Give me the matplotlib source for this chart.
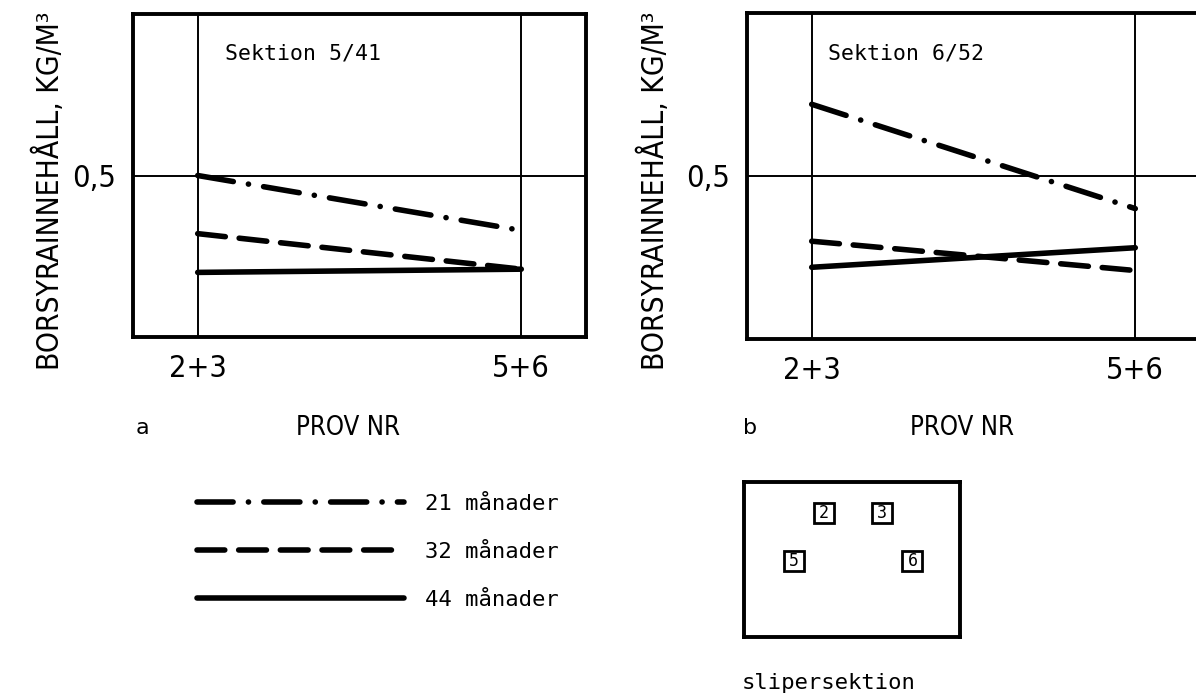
import matplotlib
matplotlib.use("Agg")
import matplotlib.pyplot as plt
import matplotlib.font_manager as fm

# Data
prov_labels = ['2+3', '5+6']
series_labels = ['21 månader', '32 månader', '44 månader']

# Sektion 5/41
a_21 = [0.50, 0.33]
a_32 = [0.32, 0.21]
a_44 = [0.20, 0.21]

# Sektion 6/52
b_21 = [0.72, 0.40]
b_32 = [0.30, 0.21]
b_44 = [0.22, 0.28]

# sample positions in the sleeper section sketch
sample_nr = ['2', '3', '5', '6']
sample_x = [0.37, 0.64, 0.23, 0.78]
sample_y = [0.80, 0.80, 0.49, 0.49]

# Fonts: look for a narrow sans, otherwise plain DejaVu Sans
cond = [f for f in fm.fontManager.ttflist
        if ('Narrow' in f.name or 'Condensed' in f.name
            or f.stretch in ('condensed', 'semi-condensed'))
        and f.style == 'normal' and f.weight in (400, 'normal', 'regular')
        and 'Mono' not in f.name and 'Serif' not in f.name]
if cond:
    nfp = dict(fname=cond[0].fname)
    k = 1.0
else:
    nfp = dict(family='DejaVu Sans')
    k = 0.87
mono = 'DejaVu Sans Mono'


def nprop(size):
    return fm.FontProperties(size=size, **nfp)


plt.rcParams['lines.scale_dashes'] = False

W, H = 1196, 700
fig = plt.figure(figsize=(W / 100, H / 100), dpi=100)


def px_axes(l, t, r, b):
    return fig.add_axes([l / W, 1 - b / H, (r - l) / W, (b - t) / H])


styles = [
    dict(linestyle=(0, (26, 11, 0.1, 11))),
    dict(linestyle=(0, (20, 10))),
    dict(linestyle='-'),
]


def panel(box, values, title, letter, ylab_x, prov_x):
    ax = px_axes(*box)
    handles = []
    for vals, st in zip(values, styles):
        h, = ax.plot([0, 1], vals, color='black', lw=4,
                     dash_capstyle='round', solid_capstyle='round', **st)
        handles.append(h)
    ax.set_xlim(-0.2, 1.2)
    ax.set_ylim(0, 1)
    ax.set_xticks([0, 1])
    ax.set_xticklabels(prov_labels, fontproperties=nprop(22 * k))
    ax.set_yticks([0.5])
    ax.set_yticklabels(['0,5'], fontproperties=nprop(22 * k))
    ax.tick_params(length=0, pad=12)
    ax.grid(True, color='black', lw=1.4)
    ax.set_axisbelow(True)
    for s in ax.spines.values():
        s.set_linewidth(2.8)
    ax.text(title[1], title[2], title[0], transform=ax.transAxes,
            family=mono, fontsize=15.5, va='center', ha='left')
    fig.text(ylab_x / W, 1 - 191 / H, 'BORSYRAINNEHÅLL, KG/M³', rotation=90,
             ha='center', va='center', fontproperties=nprop(21.5 * k))
    fig.text(prov_x / W, 1 - 428 / H, 'PROV NR', ha='center', va='center',
             fontproperties=nprop(18.5 * k))
    fig.text(letter[1] / W, 1 - 428 / H, letter[0], ha='left', va='center',
             fontsize=16)
    return handles


handles = panel((133, 14, 586, 337), [a_21, a_32, a_44],
                ('Sektion 5/41', 0.203, 0.879), ('a', 136), 49, 348)
panel((747, 13, 1200, 339), [b_21, b_32, b_44],
      ('Sektion 6/52', 0.179, 0.877), ('b', 743), 654, 962)

# Legend
fig.legend(handles, series_labels, loc='center left',
           bbox_to_anchor=(197 / W, 1 - 552 / H), frameon=False,
           prop={'family': mono, 'size': 16}, handlelength=9.3,
           handletextpad=0.95, labelspacing=1.25, borderpad=0,
           borderaxespad=0)

# Sleeper section sketch
axs = px_axes(744, 482, 960, 637)
axs.plot(sample_x, sample_y, 's', ms=15, mfc='white', mec='black', mew=2)
for nr, x, y in zip(sample_nr, sample_x, sample_y):
    axs.text(x, y, nr, ha='center', va='center', family=mono, fontsize=12)
axs.set_xlim(0, 1)
axs.set_ylim(0, 1)
axs.set_xticks([])
axs.set_yticks([])
for s in axs.spines.values():
    s.set_linewidth(2.8)
fig.text(742 / W, 1 - 683 / H, 'slipersektion', ha='left', va='center',
         family=mono, fontsize=16)

fig.savefig('out.png', dpi=100)
